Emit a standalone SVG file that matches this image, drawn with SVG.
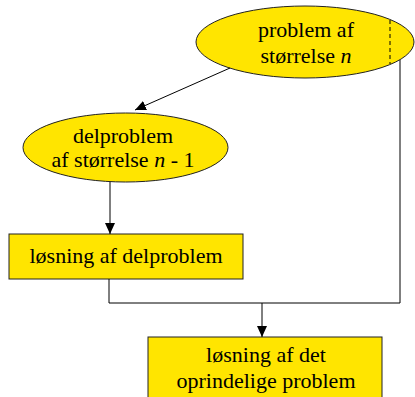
<svg xmlns="http://www.w3.org/2000/svg" width="415" height="397" viewBox="0 0 415 397">
<style>
.n{fill:#FFE500;stroke:#222;stroke-width:1}
.t{font-family:"Liberation Serif","Times New Roman",serif;font-size:22px;fill:#000;text-anchor:middle}
.c{fill:none;stroke:#000;stroke-width:1}
</style>
<defs>
<marker id="ah" markerWidth="11" markerHeight="10" refX="11" refY="5" orient="auto" markerUnits="userSpaceOnUse">
<path d="M0,0 L11,5 L0,10 Z" fill="#000"/>
</marker>
</defs>
<rect width="415" height="397" fill="#fff"/>
<g id="n1">
<ellipse class="n" cx="305" cy="42" rx="109" ry="36"/>
<line x1="390" y1="20" x2="390" y2="64" stroke="#000" stroke-width="1" stroke-dasharray="4,3"/>
<text class="t" x="306" y="37">problem af</text>
<text class="t" x="306" y="63">størrelse <tspan font-style="italic">n</tspan></text>
</g>
<g id="n2">
<ellipse class="n" cx="125.5" cy="147.5" rx="102.5" ry="34.5"/>
<text class="t" x="123" y="143">delproblem</text>
<text class="t" x="123" y="167">af størrelse <tspan font-style="italic">n</tspan> - 1</text>
</g>
<g id="n3">
<rect class="n" x="9" y="234" width="234" height="45"/>
<text class="t" x="126" y="263">løsning af delproblem</text>
</g>
<g id="n4">
<rect class="n" x="148" y="337" width="234" height="70"/>
<text class="t" x="266" y="362">løsning af det</text>
<text class="t" x="266" y="388">oprindelige problem</text>
</g>
<g id="connectors">
<line class="c" x1="230" y1="68" x2="135" y2="110" marker-end="url(#ah)"/>
<line class="c" x1="110" y1="182" x2="110" y2="234" marker-end="url(#ah)"/>
<polyline class="c" points="109,279 109,303 400,303 400,60"/>
<line class="c" x1="262" y1="303" x2="262" y2="337" marker-end="url(#ah)"/>
</g>
</svg>
